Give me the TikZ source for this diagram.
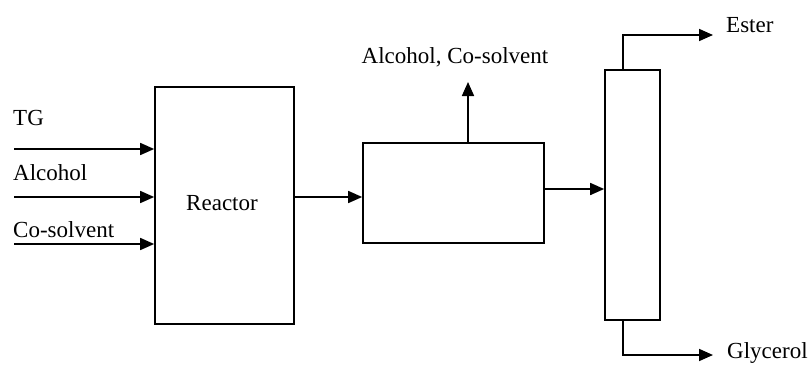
\documentclass[tikz,border=0pt]{standalone}
\usepackage{fontspec}
\setmainfont{Liberation Serif}
\usetikzlibrary{arrows.meta}
\begin{document}
\begin{tikzpicture}[x=1pt,y=-1pt,
  unit/.style={draw,line width=1.7pt,rectangle,inner sep=0pt},
  flow/.style={line width=1.7pt,-{Triangle[length=14pt,width=12pt]}},
  lab/.style={font=\fontsize{23}{26}\selectfont,inner sep=0pt,anchor=base west}]
\useasboundingbox (0,0) rectangle (811,370);
% units
\node[unit,minimum width=139pt,minimum height=237pt] (reactor) at (224.5,205.5) {};
\node[lab,anchor=base] (rlab) at (222,210) {Reactor};
\node[unit,minimum width=181pt,minimum height=100pt] (sep) at (453.5,193) {};
\node[unit,minimum width=55pt,minimum height=250pt] (col) at (632.5,195) {};
% labels
\node[lab] (tg) at (13,125) {TG};
\node[lab] (alc) at (13,180) {Alcohol};
\node[lab] (cos) at (13,237) {Co-solvent};
\node[lab,anchor=base] (rec) at (455,63) {Alcohol, Co-solvent};
\node[lab] (ester) at (726,32) {Ester};
\node[lab] (gly) at (727,358) {Glycerol};
% free ends
\coordinate (tgs) at (14,149);
\coordinate (alcs) at (14,197);
\coordinate (coss) at (14,244);
\coordinate (rect) at (468,82);
\coordinate (estt) at (713,35);
\coordinate (glyt) at (713,355);
% feeds
\draw[flow] (tgs) -- (tgs -| reactor.west);
\draw[flow] (alcs) -- (alcs -| reactor.west);
\draw[flow] (coss) -- (coss -| reactor.west);
% reactor to separator
\draw[flow] (reactor.east |- 0,197) -- (sep.west |- 0,197);
% recycle
\draw[flow] (rect |- sep.north) -- (rect);
% separator to column
\draw[flow] (sep.east |- 0,189) -- (col.west |- 0,189);
% products
\draw[flow] (623,0 |- col.north) -- (623,35) -- (estt);
\draw[flow] (623,0 |- col.south) -- (623,355) -- (glyt);
\end{tikzpicture}
\end{document}
